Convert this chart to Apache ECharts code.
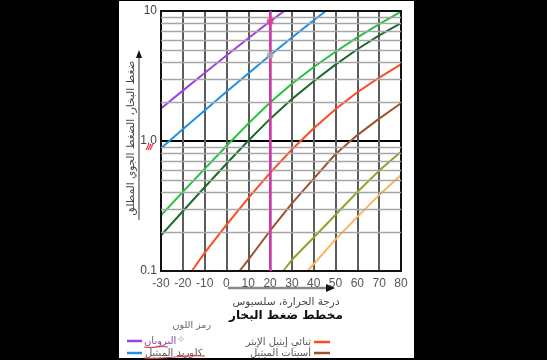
<!DOCTYPE html>
<html><head><meta charset="utf-8">
<script src="https://cdn.jsdelivr.net/npm/echarts@6/dist/echarts.min.js"></script>
<style>html,body{margin:0;padding:0;background:#000;}#c{width:547px;height:360px;}</style>
</head><body><div id="c"></div>
<script>
// ---- data ----
const xTicks = [-30,-20,-10,0,10,20,30,40,50,60,70,80];
const yMajor = [0.1, 1, 10];
const yMinorGrid = [0.2,0.3,0.4,0.5,0.6,0.7,0.8,0.9,2,3,4,5,6,7,8,9];

const propaneT = [-30,-20,-10,0,10,20,26.5];
const propaneP = [1.78,2.44,3.34,4.55,6.17,8.32,10];
const methylChlorideT = [-30,-20,-10,0,10,20,30,40,45.5];
const methylChlorideP = [0.879,1.23,1.72,2.39,3.31,4.57,6.25,8.47,10];
const greenT = [-30,-20,-10,0,10,20,30,40,50,60,70,80];
const greenP = [0.268,0.406,0.611,0.916,1.36,1.98,2.76,3.71,4.86,6.27,7.93,9.89];
const darkGreenT = [-30,-20,-10,0,10,20,30,40,50,60,70,80];
const darkGreenP = [0.188,0.288,0.441,0.668,1.005,1.479,2.10,2.88,3.87,5.08,6.49,8.05];
const etherT = [-15.9,-10,0,10,20,30,40,50,60,70,80];
const etherP = [0.1,0.138,0.226,0.363,0.569,0.861,1.253,1.758,2.371,3.076,3.88];
const acetateT = [6,10,20,30,40,50,60,70,80];
const acetateP = [0.1,0.122,0.204,0.331,0.513,0.794,1.11,1.486,1.95];
const oliveT = [26,30,40,50,60,70,80];
const oliveP = [0.1,0.122,0.181,0.271,0.405,0.592,0.826];
const orangeT = [37.1,40,50,60,70,80];
const orangeP = [0.1,0.113,0.175,0.261,0.385,0.547];

const markerT = 20;
const markerPoints = [[20, 8.32], [20, 4.57]];

const legendItems = ['البروبان','كلوريد الميثيل','ثنائي إيثيل الإيثر','أسيتات الميثيل'];

// ---- chart ----
const AR = "'DejaVu Sans', 'Noto Sans', sans-serif";
const chart = echarts.init(document.getElementById('c'));
const pairs = (T,P)=>T.map((t,i)=>[t,P[i]]);
const curve = (name,T,P,color)=>({
  name, type:'line', data:pairs(T,P), smooth:false, showSymbol:false, z:3,
  lineStyle:{color, width:2, join:'round'}, itemStyle:{color}, clip:true, silent:true
});

const graphics = [
  {type:'rect', shape:{x:119,y:1,width:295,height:357}, style:{fill:'#fff'}, z:-10},
  {type:'text', x:131, y:138, rotation:Math.PI/2, style:{text:'ضغط البخار، الضغط الجوي المطلق', font:'10.5px '+AR, fill:'#444', align:'center', verticalAlign:'middle'}},
  {type:'line', shape:{x1:139,y1:220,x2:139,y2:56}, style:{stroke:'#777', lineWidth:1.5}},
  {type:'polygon', shape:{points:[[139,50],[136,58],[142,58]]}, style:{fill:'#111'}},
  {type:'line', shape:{x1:228,y1:288,x2:328,y2:288}, style:{stroke:'#888', lineWidth:2.5}},
  {type:'polygon', shape:{points:[[335,288],[326,284],[326,292]]}, style:{fill:'#111'}},
  {type:'text', x:286, y:302, style:{text:'درجة الحرارة، سلسيوس', font:'10.5px '+AR, fill:'#444', align:'center', verticalAlign:'middle'}},
  {type:'text', x:286, y:316, style:{text:'مخطط ضغط البخار', font:'bold 12px '+AR, fill:'#111', align:'center', verticalAlign:'middle'}},
  {type:'text', x:211, y:326, style:{text:'رمز اللون', font:'9.5px '+AR, fill:'#666', align:'right', verticalAlign:'middle'}},
  {type:'line', shape:{x1:127,y1:341,x2:142,y2:341}, style:{stroke:'#a040e0', lineWidth:2.5}},
  {type:'text', x:144, y:341, style:{text:legendItems[0], font:'10px '+AR, fill:'#8a4a9a', align:'left', verticalAlign:'middle'}},
  {type:'text', x:181, y:340, style:{text:'✧', font:'11px '+AR, fill:'#aaa', align:'center', verticalAlign:'middle'}},
  {type:'line', shape:{x1:127,y1:353,x2:142,y2:353}, style:{stroke:'#1e90e8', lineWidth:2.5}},
  {type:'text', x:145, y:353, style:{text:legendItems[1], font:'10px '+AR, fill:'#555', align:'left', verticalAlign:'middle'}},
  {type:'text', x:311, y:342, style:{text:legendItems[2], font:'10px '+AR, fill:'#555', align:'right', verticalAlign:'middle'}},
  {type:'line', shape:{x1:314,y1:342,x2:330,y2:342}, style:{stroke:'#ff4a26', lineWidth:2.5}},
  {type:'text', x:311, y:353, style:{text:legendItems[3], font:'10px '+AR, fill:'#555', align:'right', verticalAlign:'middle'}},
  {type:'line', shape:{x1:314,y1:353,x2:330,y2:353}, style:{stroke:'#a0522d', lineWidth:2.5}},
  {type:'bezierCurve', shape:{x1:144,y1:347,cpx1:155,cpy1:349,cpx2:160,cpy2:345,x2:168,y2:347}, style:{stroke:'#e23b4a', lineWidth:1.2, fill:null}},
  {type:'bezierCurve', shape:{x1:144,y1:358,cpx1:165,cpy1:360,cpx2:185,cpy2:354,x2:205,y2:356}, style:{stroke:'#e23b4a', lineWidth:1.2, fill:null}},
  {type:'line', shape:{x1:146,y1:150,x2:149,y2:144}, style:{stroke:'#e23b4a', lineWidth:1.2}},
  {type:'line', shape:{x1:148,y1:150,x2:151,y2:144}, style:{stroke:'#e23b4a', lineWidth:1.2}},
  {type:'line', shape:{x1:150,y1:150,x2:153,y2:144}, style:{stroke:'#e23b4a', lineWidth:1.2}}
];

chart.setOption({
  backgroundColor:'#000',
  animation:false,
  grid:{left:161, right:146, top:11, bottom:89, show:true, borderColor:'#111', borderWidth:2, backgroundColor:'transparent', z:5},
  xAxis:{type:'value', min:-30, max:80, interval:10, z:2,
    axisLine:{show:false}, axisTick:{show:false},
    axisLabel:{color:'#555', fontSize:12, fontFamily:'Liberation Sans, Arial', margin:7},
    splitLine:{show:true, lineStyle:{color:'#5c5c5c', width:2}}},
  yAxis:{type:'log', logBase:10, min:0.1, max:10, z:2,
    axisLine:{show:false}, axisTick:{show:false},
    axisLabel:{color:'#444', fontSize:12, fontFamily:'Liberation Sans, Arial', margin:4,
      formatter:v=> (Math.abs(v-1)<1e-9 ? '1.0' : (v<1 ? '0.1' : String(Math.round(v))))},
    splitLine:{show:true, lineStyle:{color:'#000', width:2}}},
  graphic:graphics,
  series:[
    {type:'line', data:[], z:1, silent:true,
      markLine:{silent:true, symbol:'none', label:{show:false}, animation:false,
        lineStyle:{color:'#a6a6a6', width:1.4, type:'solid'},
        data:yMinorGrid.map(v=>({yAxis:v}))}},
    curve('propane', propaneT, propaneP, '#a040e0'),
    curve('methyl chloride', methylChlorideT, methylChlorideP, '#1e90e8'),
    curve('green', greenT, greenP, '#22c33a'),
    curve('dark green', darkGreenT, darkGreenP, '#1c6a2c'),
    curve('ether', etherT, etherP, '#ff4a26'),
    curve('acetate', acetateT, acetateP, '#a0522d'),
    curve('olive', oliveT, oliveP, '#8ea528'),
    curve('orange', orangeT, orangeP, '#ffb35c'),
    {type:'line', data:[], z:4, silent:true,
      markLine:{silent:true, symbol:'none', label:{show:false}, animation:false,
        lineStyle:{color:'#d43ba6', width:2.5, type:'solid'},
        data:[{xAxis:markerT}]}},
    {type:'scatter', z:6, silent:true, symbolSize:7,
      data:markerPoints.map((p,i)=>({value:p, itemStyle:{color: i===0 ? '#e8389a' : '#aaaaaa'}}))}
  ]
});
</script></body></html>
